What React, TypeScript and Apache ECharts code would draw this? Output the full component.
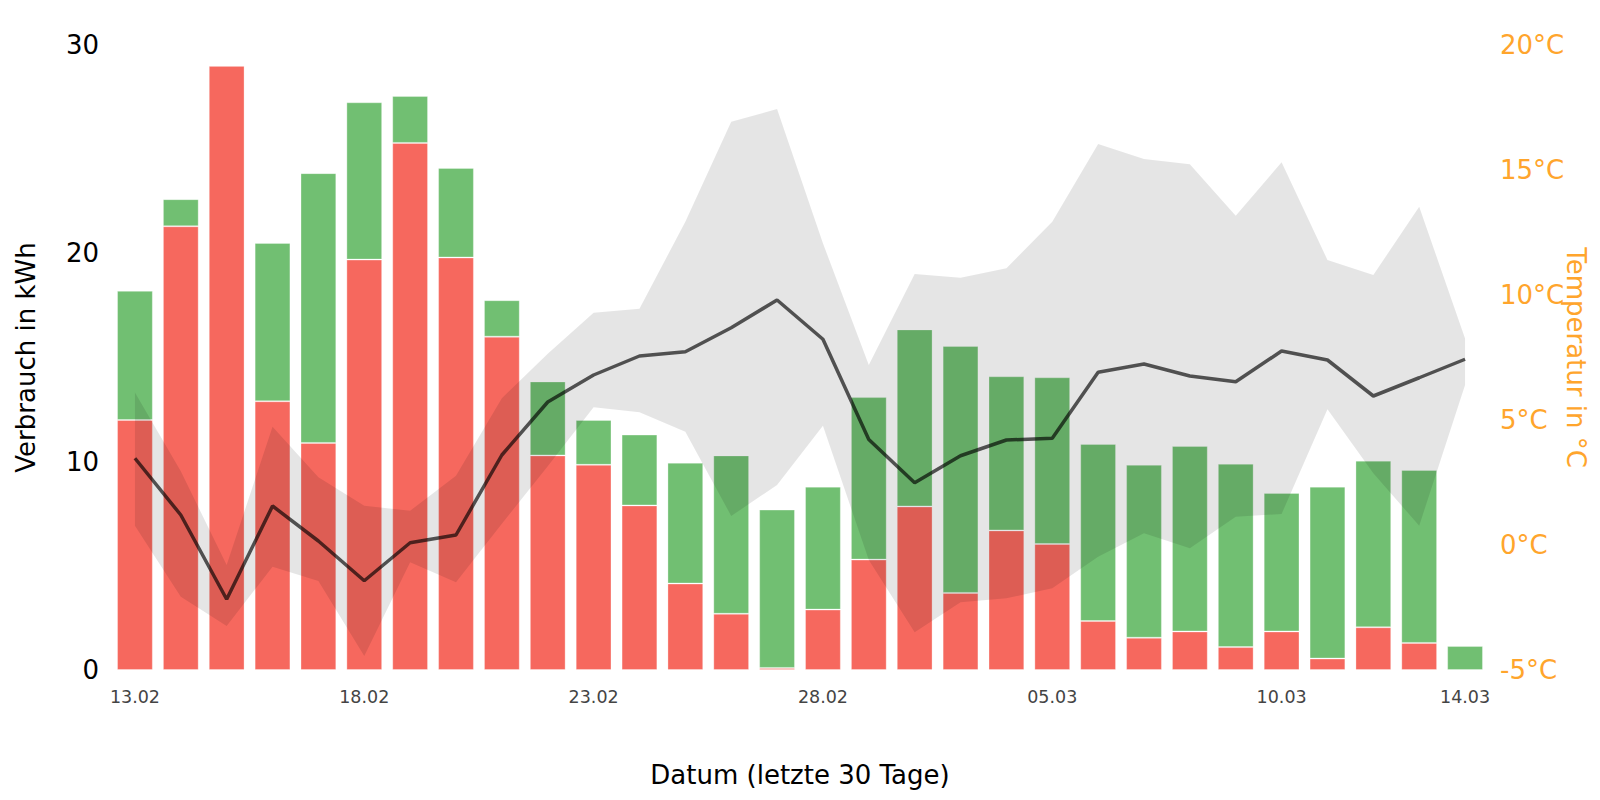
import React, { useEffect, useRef } from "react";
import * as echarts from "echarts";

const dates = [
  "13.02", "14.02", "15.02", "16.02", "17.02", "18.02", "19.02", "20.02", "21.02", "22.02",
  "23.02", "24.02", "25.02", "26.02", "27.02", "28.02", "01.03", "02.03", "03.03", "04.03",
  "05.03", "06.03", "07.03", "08.03", "09.03", "10.03", "11.03", "12.03", "13.03", "14.03",
];

// red (bottom) part of the bar, kWh
const redKwh = [
  12.0, 21.3, 29.0, 12.9, 10.9, 19.7, 25.3, 19.8, 16.0, 10.3,
  9.85, 7.9, 4.15, 2.7, 0.1, 2.9, 5.3, 7.85, 3.7, 6.7,
  6.05, 2.35, 1.55, 1.85, 1.1, 1.85, 0.55, 2.05, 1.3, 0,
];

// total bar height, kWh
const totalKwh = [
  18.2, 22.6, 29.0, 20.5, 23.85, 27.25, 27.55, 24.1, 17.75, 13.85,
  12.0, 11.3, 9.95, 10.3, 7.7, 8.8, 13.1, 16.35, 15.55, 14.1,
  14.05, 10.85, 9.85, 10.75, 9.9, 8.5, 8.8, 10.05, 9.6, 1.15,
];

const tempMean = [
  3.47, 1.2, -2.17, 1.56, 0.16, -1.43, 0.09, 0.4, 3.6, 5.72,
  6.8, 7.56, 7.73, 8.69, 9.8, 8.23, 4.22, 2.49, 3.57, 4.2,
  4.27, 6.91, 7.24, 6.76, 6.53, 7.76, 7.4, 5.96, 6.69, 7.43,
];

const tempMax = [
  6.1, 2.95, -0.8, 4.73, 2.71, 1.57, 1.37, 2.77, 5.87, 7.65,
  9.29, 9.45, 12.93, 16.93, 17.44, 12.07, 7.2, 10.84, 10.69, 11.07,
  12.93, 16.04, 15.44, 15.23, 13.17, 15.31, 11.4, 10.8, 13.53, 8.26,
];

const tempMin = [
  0.77, -2.07, -3.24, -0.87, -1.44, -4.44, -0.69, -1.49, 0.85, 3.15,
  5.51, 5.31, 4.53, 1.16, 2.4, 4.77, -0.6, -3.49, -2.29, -2.13,
  -1.73, -0.47, 0.47, -0.13, 1.13, 1.24, 5.43, 2.87, 0.77, 6.4,
];

const leftTicks = { min: 0, max: 30, interval: 10 };
const rightTicks = { min: -5, max: 20, interval: 5 };

const RED = "#f6685e";
const GREEN = "#71bf72";
const ORANGE = "#ffa52c";
const FONT = "DejaVu Sans";

export default function App() {
  const ref = useRef<HTMLDivElement>(null);

  useEffect(() => {
    if (!ref.current) return;
    const chart = echarts.init(ref.current, null, { renderer: "svg" });
    const greenKwh = totalKwh.map((t, i) => +(t - redKwh[i]).toFixed(3));
    const bandDiff = tempMax.map((m, i) => +(m - tempMin[i]).toFixed(3));

    chart.setOption({
      animation: false,
      backgroundColor: "#ffffff",
      textStyle: { fontFamily: FONT },
      grid: {
        left: 112,
        right: 112,
        top: 45,
        bottom: 130,
        containLabel: false,
        outerBoundsMode: "none",
      },
      xAxis: {
        type: "category",
        data: dates,
        boundaryGap: true,
        axisLine: { show: false },
        axisTick: { show: false },
        splitLine: { show: false },
        axisLabel: {
          fontFamily: FONT,
          fontSize: 17.5,
          color: "#444444",
          margin: 18,
          interval: (index: number) => index % 5 === 0 || index === dates.length - 1,
        },
        name: "Datum (letzte 30 Tage)",
        nameLocation: "middle",
        nameGap: 92,
        nameMoveOverlap: false,
        nameTextStyle: { fontFamily: FONT, fontSize: 26, color: "#000000" },
      },
      yAxis: [
        {
          type: "value",
          min: leftTicks.min,
          max: leftTicks.max,
          interval: leftTicks.interval,
          axisLine: { show: false },
          axisTick: { show: false },
          splitLine: { show: false },
          axisLabel: { fontFamily: FONT, fontSize: 26, color: "#000000", margin: 13 },
          name: "Verbrauch in kWh",
          nameLocation: "middle",
          nameGap: 73.5,
          nameMoveOverlap: false,
          nameTextStyle: { fontFamily: FONT, fontSize: 26, color: "#000000" },
        },
        {
          type: "value",
          position: "right",
          min: rightTicks.min,
          max: rightTicks.max,
          interval: rightTicks.interval,
          axisLine: { show: false },
          axisTick: { show: false },
          splitLine: { show: false },
          axisLabel: {
            fontFamily: FONT,
            fontSize: 26,
            color: ORANGE,
            margin: 12,
            formatter: "{value}°C",
          },
          name: "Temperatur in °C",
          nameLocation: "middle",
          nameGap: 75,
          nameRotate: -90,
          nameMoveOverlap: false,
          nameTextStyle: { fontFamily: FONT, fontSize: 26, color: ORANGE },
        },
      ],
      series: [
        {
          type: "bar",
          name: "red",
          stack: "kwh",
          data: redKwh,
          barCategoryGap: "22%",
          itemStyle: { color: RED, borderColor: "rgba(255,255,255,0.3)", borderWidth: 1 },
          z: 1,
        },
        {
          type: "bar",
          name: "green",
          stack: "kwh",
          data: greenKwh,
          barCategoryGap: "22%",
          itemStyle: { color: GREEN, borderColor: "rgba(255,255,255,0.3)", borderWidth: 1 },
          z: 1,
        },
        {
          type: "line",
          name: "min",
          yAxisIndex: 1,
          stack: "band",
          stackStrategy: "all",
          data: tempMin,
          symbol: "none",
          lineStyle: { opacity: 0 },
          z: 3,
        },
        {
          type: "line",
          name: "band",
          yAxisIndex: 1,
          stack: "band",
          stackStrategy: "all",
          data: bandDiff,
          symbol: "none",
          lineStyle: { opacity: 0 },
          areaStyle: { color: "rgba(0,0,0,0.1)", opacity: 1 },
          z: 3,
        },
        {
          type: "line",
          name: "mean",
          yAxisIndex: 1,
          data: tempMean,
          symbol: "none",
          lineStyle: { color: "rgba(0,0,0,0.65)", width: 3.5 },
          z: 4,
        },
      ],
    });
    return () => chart.dispose();
  }, []);

  return (
    <div
      ref={ref}
      style={{ position: "fixed", left: 0, top: 0, width: 1600, height: 800, background: "#fff" }}
    />
  );
}
